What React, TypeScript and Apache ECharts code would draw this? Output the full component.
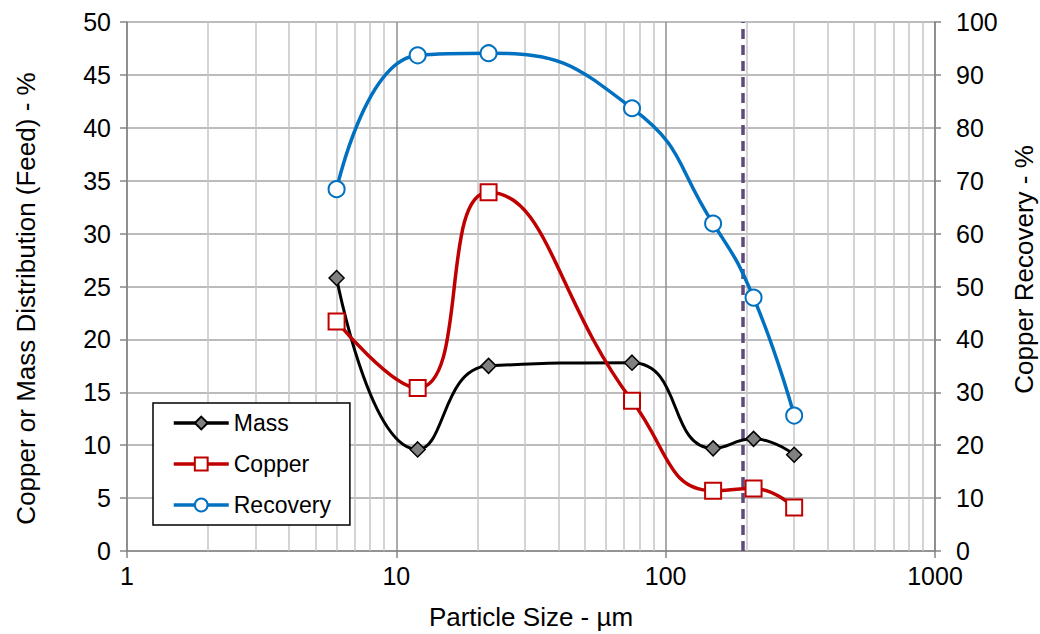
import React, { useEffect, useRef } from "react";
import * as echarts from "echarts";

const sizes = [6, 12, 22, 75, 150, 212, 300];
const mass = [25.8, 9.6, 17.5, 17.8, 9.7, 10.6, 9.1];
const copper = [21.7, 15.4, 33.9, 14.2, 5.7, 5.9, 4.1];
const recovery = [68.4, 93.7, 94.1, 83.7, 61.9, 47.9, 25.6];
const minorGrid = [2, 3, 4, 5, 6, 7, 8, 9, 20, 30, 40, 50, 60, 70, 80, 90, 200, 300, 400, 500, 600, 700, 800, 900];
const cutSize = 194;

const FONT = "'Liberation Sans', Arial, sans-serif";

export default function App() {
  const ref = useRef<HTMLDivElement>(null);
  useEffect(() => {
    if (!ref.current) return;
    const chart = echarts.init(ref.current, undefined, { renderer: "svg" });
    const textStyle = { fontFamily: FONT, color: "#000", fontSize: 25 };
    const titleStyle = { fontFamily: FONT, color: "#000", fontSize: 26 };
    chart.setOption({
      animation: false,
      textStyle: { fontFamily: FONT },
      grid: { left: 127, right: 105, top: 22, bottom: 83, containLabel: false, outerBoundsMode: "none" },
      legend: {
        orient: "vertical",
        left: 153,
        top: 403,
        padding: [8, 19, 8, 19],
        itemGap: 17,
        itemWidth: 55,
        itemHeight: 16,
        borderColor: "#000",
        borderWidth: 1.5,
        backgroundColor: "#fff",
        lineStyle: { width: 3.5 },
        textStyle: { fontFamily: FONT, color: "#000", fontSize: 23, lineHeight: 24 },
        data: ["Mass", "Copper", "Recovery"],
      },
      xAxis: {
        type: "log",
        logBase: 10,
        min: 1,
        max: 1000,
        name: "Particle Size - µm",
        nameLocation: "middle",
        nameGap: 53,
        nameTextStyle: titleStyle,
        axisLine: { show: true, lineStyle: { color: "#868686", width: 1.5 } },
        axisTick: { show: true, inside: false, length: 7, lineStyle: { color: "#868686", width: 1.5 } },
        axisLabel: { ...textStyle, margin: 12, formatter: (v: number) => String(Math.round(v)) },
        splitLine: { show: true, lineStyle: { color: "#8f8f8f", width: 1.5 } },
        minorTick: { show: false },
        minorSplitLine: { show: false },
      },
      yAxis: [
        {
          type: "value",
          min: 0,
          max: 50,
          interval: 5,
          name: "Copper or Mass Distribution (Feed) - %",
          nameLocation: "middle",
          nameGap: 88,
          nameRotate: 90,
          nameTextStyle: { ...titleStyle, padding: [0, 24, 0, 0] },
          axisLine: { show: true, lineStyle: { color: "#868686", width: 1.5 } },
          axisTick: { show: true, inside: false, length: 7, lineStyle: { color: "#868686", width: 1.5 } },
          axisLabel: { ...textStyle, margin: 16 },
          splitLine: { show: true, lineStyle: { color: "#a6a6a6", width: 1.5 } },
        },
        {
          type: "value",
          min: 0,
          max: 100,
          interval: 10,
          position: "right",
          name: "Copper Recovery - %",
          nameLocation: "middle",
          nameGap: 76,
          nameRotate: 90,
          nameTextStyle: { ...titleStyle, padding: [0, 0, 0, 34] },
          axisLine: { show: true, lineStyle: { color: "#868686", width: 1.5 } },
          axisTick: { show: true, inside: false, length: 6, lineStyle: { color: "#868686", width: 1.5 } },
          axisLabel: { ...textStyle, margin: 21, align: "left" },
          splitLine: { show: false },
        },
      ],
      series: [
        {
          name: "grid",
          type: "line",
          data: [[1, 0]],
          symbol: "none",
          lineStyle: { opacity: 0 },
          silent: true,
          markLine: {
            silent: true,
            z: 1,
            symbol: ["none", "none"],
            label: { show: false },
            lineStyle: { color: "#c6c6c6", width: 1.5, type: "solid" },
            data: minorGrid.map((v) => ({ xAxis: v })),
          },
        },
        {
          name: "cut",
          type: "line",
          data: [[1, 0]],
          symbol: "none",
          lineStyle: { opacity: 0 },
          silent: true,
          markLine: {
            silent: true,
            z: 1.5,
            symbol: ["none", "none"],
            label: { show: false },
            lineStyle: { color: "#604a7b", width: 3.5, type: [10, 6] },
            data: [{ xAxis: cutSize }],
          },
        },
        {
          name: "Mass",
          type: "line",
          yAxisIndex: 0,
          smooth: 0.5,
          data: sizes.map((s, i) => [s, mass[i]]),
          symbol: "diamond",
          symbolSize: 15,
          lineStyle: { color: "#000", width: 3 },
          itemStyle: { color: "#808080", borderColor: "#000", borderWidth: 1.5 },
        },
        {
          name: "Copper",
          type: "line",
          yAxisIndex: 0,
          smooth: 0.5,
          data: sizes.map((s, i) => [s, copper[i]]),
          symbol: "rect",
          symbolSize: 16,
          lineStyle: { color: "#c00000", width: 3.5 },
          itemStyle: { color: "#fff", borderColor: "#c00000", borderWidth: 2 },
        },
        {
          name: "Recovery",
          type: "line",
          yAxisIndex: 1,
          smooth: 0.5,
          data: sizes.map((s, i) => [s, recovery[i]]),
          symbol: "circle",
          symbolSize: 16,
          lineStyle: { color: "#0070c0", width: 3.5 },
          itemStyle: { color: "#fff", borderColor: "#0070c0", borderWidth: 2 },
        },
      ],
    });
    return () => chart.dispose();
  }, []);
  return <div ref={ref} style={{ width: 1040, height: 634, position: "absolute", left: 0, top: 0 }} />;
}
